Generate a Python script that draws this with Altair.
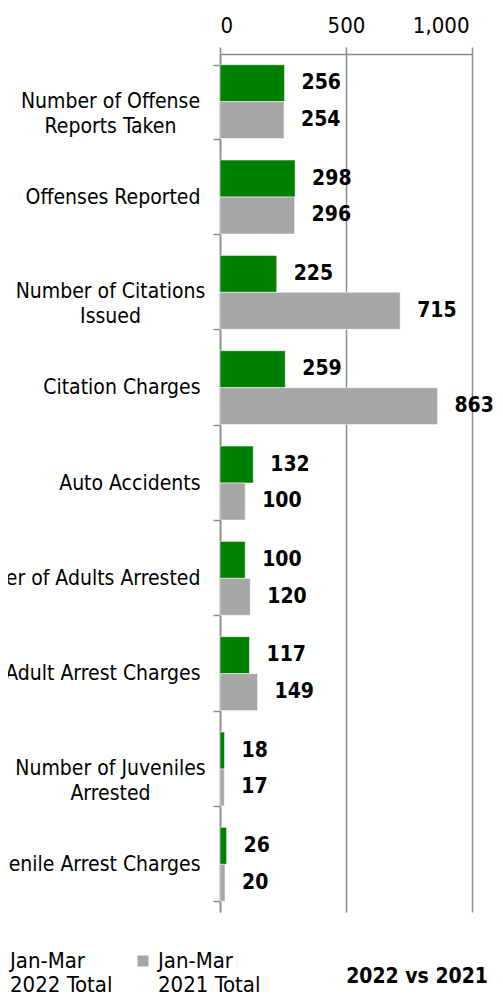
import altair as alt
import pandas as pd

categories = [
    "Number of Offense\nReports Taken",
    "Offenses Reported",
    "Number of Citations\nIssued",
    "Citation Charges",
    "Auto Accidents",
    "Number of Adults Arrested",
    "Adult Arrest Charges",
    "Number of Juveniles\nArrested",
    "Juvenile Arrest Charges",
]
series = ["Jan-Mar 2022 Total", "Jan-Mar 2021 Total"]
values_2022 = [256, 298, 225, 259, 132, 100, 117, 18, 26]
values_2021 = [254, 296, 715, 863, 100, 120, 149, 17, 20]
colors = ["#008000", "#a6a6a6"]
x_ticks = [0, 500, 1000]

rows = []
for c, a, b in zip(categories, values_2022, values_2021):
    rows.append({"category": c, "series": series[0], "value": a})
    rows.append({"category": c, "series": series[1], "value": b})
df = pd.DataFrame(rows)

FONT = "DejaVu Sans Condensed"
GRID = "#8c8c8c"
band = alt.Scale(paddingInner=0.225, paddingOuter=0.1125)

# single-line category labels: right aligned
y_axis_single = alt.Axis(
    title=None,
    orient="left",
    labelExpr="indexof(datum.label, '\\n') >= 0 ? '' : datum.label",
    labelFontSize=21,
    labelFont=FONT,
    labelColor="#000000",
    labelPadding=13,
    labelLimit=400,
    tickSize=7,
    tickColor=GRID,
    tickWidth=1.5,
    tickBand="extent",
    domainColor=GRID,
    domainWidth=1.5,
    grid=False,
)
# two-line category labels: lines centred within the block
y_axis_multi = alt.Axis(
    title=None,
    orient="left",
    labelExpr="indexof(datum.label, '\\n') >= 0 ? split(datum.label, '\\n') : ''",
    labelAlign="center",
    labelFontSize=21,
    labelFont=FONT,
    labelColor="#000000",
    labelPadding=110,
    labelLineHeight=25,
    labelLimit=400,
    ticks=False,
    domain=False,
    grid=False,
)
x_enc = alt.X(
    "value:Q",
    scale=alt.Scale(domain=[0, 1000], nice=False),
    axis=alt.Axis(
        orient="top",
        title=None,
        values=x_ticks,
        format=",d",
        labelFontSize=22,
        labelFont=FONT,
        labelColor="#000000",
        labelPadding=10,
        labelOffset={"condition": {"test": "datum.value >= 1000", "value": -3}, "value": 0},
        tickSize=7,
        tickColor=GRID,
        tickWidth=1.5,
        domainColor=GRID,
        domainWidth=1.5,
        grid=True,
        gridColor=GRID,
        gridWidth=1.5,
    ),
)
yoff = alt.YOffset("series:N", sort=series, scale=alt.Scale(paddingInner=0, paddingOuter=0))

bars = alt.Chart(df).mark_bar(stroke="#ffffff", strokeOpacity=0.5, strokeWidth=1).encode(
    x=x_enc,
    y=alt.Y("category:N", sort=categories, scale=band, axis=y_axis_single),
    yOffset=yoff,
    color=alt.Color(
        "series:N",
        sort=series,
        scale=alt.Scale(domain=series, range=colors),
        legend=alt.Legend(
            title=None,
            orient="none",
            legendX=-236,
            legendY=896,
            direction="horizontal",
            columns=2,
            symbolType="square",
            symbolSize=121,
            symbolStrokeWidth=0,
            labelFont=FONT,
            labelFontSize=22,
            labelColor="#000000",
            labelExpr="[slice(datum.label, 0, 7), slice(datum.label, 8)]",
            labelOffset=4,
            columnPadding=19,
            padding=0,
            labelLimit=300,
        ),
    ),
)

labels = alt.Chart(df).mark_text(
    align="left", baseline="middle", dx=17, fontSize=21, fontWeight="bold", font=FONT, color="#000000"
).encode(
    x=alt.X("value:Q"),
    y=alt.Y("category:N", sort=categories, scale=band, axis=y_axis_multi),
    yOffset=yoff,
    text=alt.Text("value:Q"),
)

chart = (
    alt.layer(bars, labels)
    .resolve_scale(y="independent")
    .properties(
        width=252,
        height=858,
        padding={"left": 212, "top": 46, "right": 23, "bottom": 86},
        autosize=alt.AutoSizeParams(type="none"),
        title=alt.TitleParams(
            text="2022 vs 2021",
            orient="bottom",
            anchor="end",
            frame="group",
            offset=-30,
            dx=16,
            fontSize=21,
            fontWeight="bold",
            font=FONT,
            color="#000000",
        ),
    )
    .configure_view(stroke=None)
)

chart.save("out.html", embed_options={"renderer": "svg", "actions": False})
